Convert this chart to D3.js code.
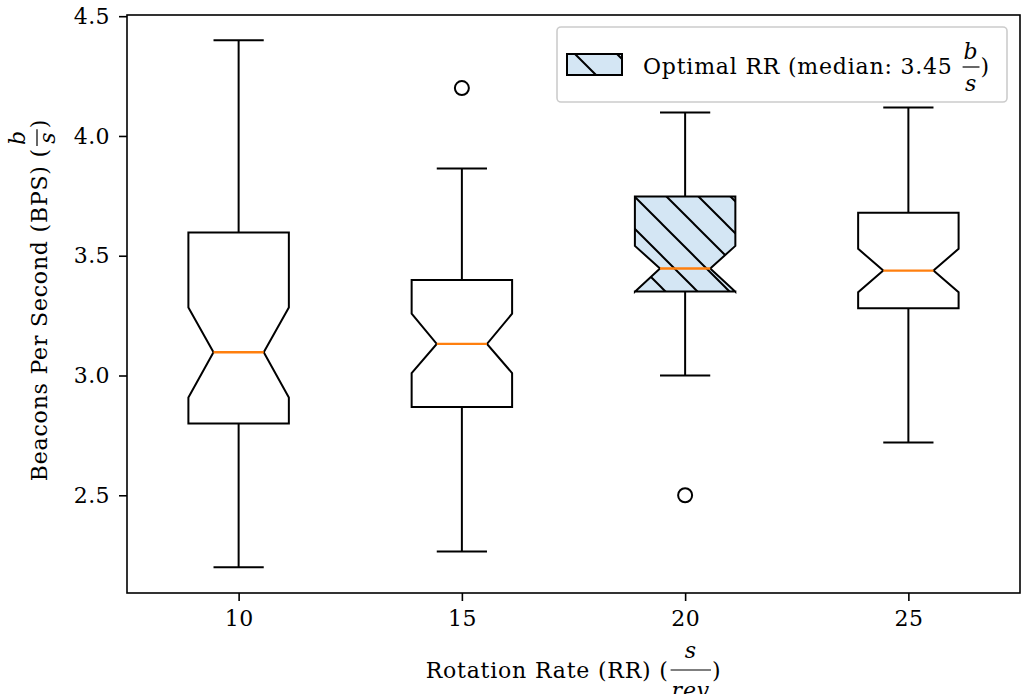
<!DOCTYPE html>
<html lang="en">
<head>
  <meta charset="UTF-8">
  <title>Beacons Per Second by Rotation Rate</title>
  <script src="https://d3js.org/d3.v7.min.js"></script>
  <style>
    body { margin: 0; background: #fff; }
    text { font-family: "DejaVu Serif", serif; font-size: 22px; letter-spacing: 0.8px; fill: #000; }
    .tick text { letter-spacing: 0.4px; }
    .tick line { stroke: #000; stroke-width: 1.6px; }
    .domain { display: none; }
  </style>
</head>
<body>
  <svg width="1024" height="694"></svg>

  <script>
    // data
    const categories  = ["10", "15", "20", "25"];
    const whiskerLow  = [2.20, 2.265, 3.00, 2.72];
    const q1          = [2.80, 2.868, 3.351, 3.281];
    const median      = [3.097, 3.132, 3.447, 3.438];
    const q3          = [3.597, 3.399, 3.747, 3.679];
    const whiskerHigh = [4.40, 3.864, 4.098, 4.119];
    const notchLow    = [2.908, 3.010, 3.350, 3.348];
    const notchHigh   = [3.284, 3.258, 3.541, 3.529];
    const outliers    = [[], [4.20], [2.50], []];
    const highlight   = 2;
    const yTicks      = [2.5, 3.0, 3.5, 4.0, 4.5];

    const svg = d3.select("svg");
    const margin = {top: 15, right: 4, bottom: 101, left: 127};
    const W = 1024, H = 694;

    const x = d3.scaleLinear().domain([0.5, 4.5]).range([margin.left, W - margin.right]);
    const y = d3.scaleLinear().domain([2.092, 4.505]).range([H - margin.bottom, margin.top]);
    const boxW = 0.45;

    const defs = svg.append("defs");
    function hatch(id, size, offset) {
      const p = defs.append("pattern")
        .attr("id", id)
        .attr("patternUnits", "userSpaceOnUse")
        .attr("width", size).attr("height", size)
        .attr("x", offset).attr("y", 0);
      p.append("rect").attr("width", size).attr("height", size).attr("fill", "#d4e6f4");
      p.append("path")
        .attr("d", `M0,0L${size},${size}M${-size/2},${size/2}L${size/2},${size*1.5}M${size/2},${-size/2}L${size*1.5},${size/2}`)
        .attr("stroke", "#000").attr("stroke-width", 2);
    }
    hatch("hatchBox", 32, 22);
    hatch("hatchLeg", 42, 17);

    // axes
    svg.append("g")
      .attr("transform", `translate(0,${H - margin.bottom})`)
      .call(d3.axisBottom(x).tickValues([1, 2, 3, 4]).tickFormat((d, i) => categories[i]).tickSize(8).tickPadding(9));

    svg.append("g")
      .attr("transform", `translate(${margin.left},0)`)
      .call(d3.axisLeft(y).tickValues(yTicks).tickFormat(d3.format(".1f")).tickSize(8).tickPadding(9));

    svg.selectAll(".tick text").attr("fill", "#000");

    // boxes
    const boxes = svg.append("g");
    categories.forEach((c, i) => {
      const cx = x(i + 1);
      const L = x(i + 1 - boxW / 2), R = x(i + 1 + boxW / 2);
      const cL = x(i + 1 - boxW / 4), cR = x(i + 1 + boxW / 4);

      // whiskers and caps
      [[q1[i], whiskerLow[i]], [q3[i], whiskerHigh[i]]].forEach(([a, b]) => {
        boxes.append("line").attr("x1", cx).attr("x2", cx).attr("y1", y(a)).attr("y2", y(b))
          .attr("stroke", "#000").attr("stroke-width", 2);
        boxes.append("line").attr("x1", cL).attr("x2", cR).attr("y1", y(b)).attr("y2", y(b))
          .attr("stroke", "#000").attr("stroke-width", 2);
      });

      const pts = [
        [L, q1[i]], [R, q1[i]], [R, notchLow[i]], [cR, median[i]], [R, notchHigh[i]], [R, q3[i]],
        [L, q3[i]], [L, notchHigh[i]], [cL, median[i]], [L, notchLow[i]]
      ];
      boxes.append("path")
        .attr("d", d3.line().x(d => d[0]).y(d => y(d[1]))(pts) + "Z")
        .attr("fill", i === highlight ? "url(#hatchBox)" : "none")
        .attr("stroke", "#000").attr("stroke-width", 2).attr("stroke-linejoin", "miter");

      boxes.append("line").attr("x1", cL).attr("x2", cR).attr("y1", y(median[i])).attr("y2", y(median[i]))
        .attr("stroke", "#ff7f0e").attr("stroke-width", 2.4);

      outliers[i].forEach(v => {
        boxes.append("circle").attr("cx", cx).attr("cy", y(v)).attr("r", 7)
          .attr("fill", "none").attr("stroke", "#000").attr("stroke-width", 2);
      });
    });

    // frame
    svg.append("rect")
      .attr("x", margin.left).attr("y", margin.top)
      .attr("width", W - margin.right - margin.left).attr("height", H - margin.bottom - margin.top)
      .attr("fill", "none").attr("stroke", "#000").attr("stroke-width", 1.6);

    // text with a stacked fraction: prefix (num/den) suffix
    function fracLabel(parent, o) {
      const g = parent.append("g");
      const t1 = g.append("text").attr("x", 0).attr("y", 0).text(o.prefix);
      const w1 = t1.node().getComputedTextLength();
      const num = g.append("text").attr("text-anchor", "middle").style("font-style", "italic").text(o.num);
      const den = g.append("text").attr("text-anchor", "middle").style("font-style", "italic").text(o.den);
      const fw = Math.max(num.node().getComputedTextLength(), den.node().getComputedTextLength()) + 2;
      const fx = w1 + o.gap + fw / 2;
      num.attr("x", fx).attr("y", o.numDy);
      den.attr("x", fx).attr("y", o.denDy);
      g.append("line").attr("x1", fx - fw / 2).attr("x2", fx + fw / 2).attr("y1", o.barDy).attr("y2", o.barDy)
        .attr("stroke", "#000").attr("stroke-width", 1.2);
      const t3 = g.append("text").attr("x", fx + fw / 2 + 1).attr("y", 0).text(o.suffix);
      const total = fx + fw / 2 + 1 + t3.node().getComputedTextLength();
      const shift = o.anchor === "middle" ? -total / 2 : 0;
      g.attr("transform", `translate(${o.x},${o.y}) rotate(${o.rotate || 0}) translate(${shift},0)`);
      return g;
    }

    fracLabel(svg, {
      prefix: "Rotation Rate (RR) (", num: "s", den: "rev", suffix: ")",
      x: (margin.left + W - margin.right) / 2, y: 678, anchor: "middle",
      gap: 2, numDy: -20, barDy: -8, denDy: 20
    });

    fracLabel(svg, {
      prefix: "Beacons Per Second (BPS) (", num: "b", den: "s", suffix: ")",
      x: 47, y: 300, rotate: -90, anchor: "middle",
      gap: 2, numDy: -22, barDy: -10, denDy: 8
    });

    // legend
    const leg = svg.append("g");
    leg.append("rect").attr("x", 557).attr("y", 27).attr("width", 450).attr("height", 75).attr("rx", 4)
      .attr("fill", "#fff").attr("fill-opacity", 0.8).attr("stroke", "#cccccc").attr("stroke-width", 1.6);
    leg.append("rect").attr("x", 567).attr("y", 54).attr("width", 55).attr("height", 21)
      .attr("fill", "url(#hatchLeg)").attr("stroke", "#000").attr("stroke-width", 2);
    fracLabel(leg, {
      prefix: "Optimal RR (median: 3.45 ", num: "b", den: "s", suffix: ")",
      x: 643, y: 74, anchor: "start",
      gap: 10, numDy: -15, barDy: -7, denDy: 17
    });
  </script>
</body>
</html>
